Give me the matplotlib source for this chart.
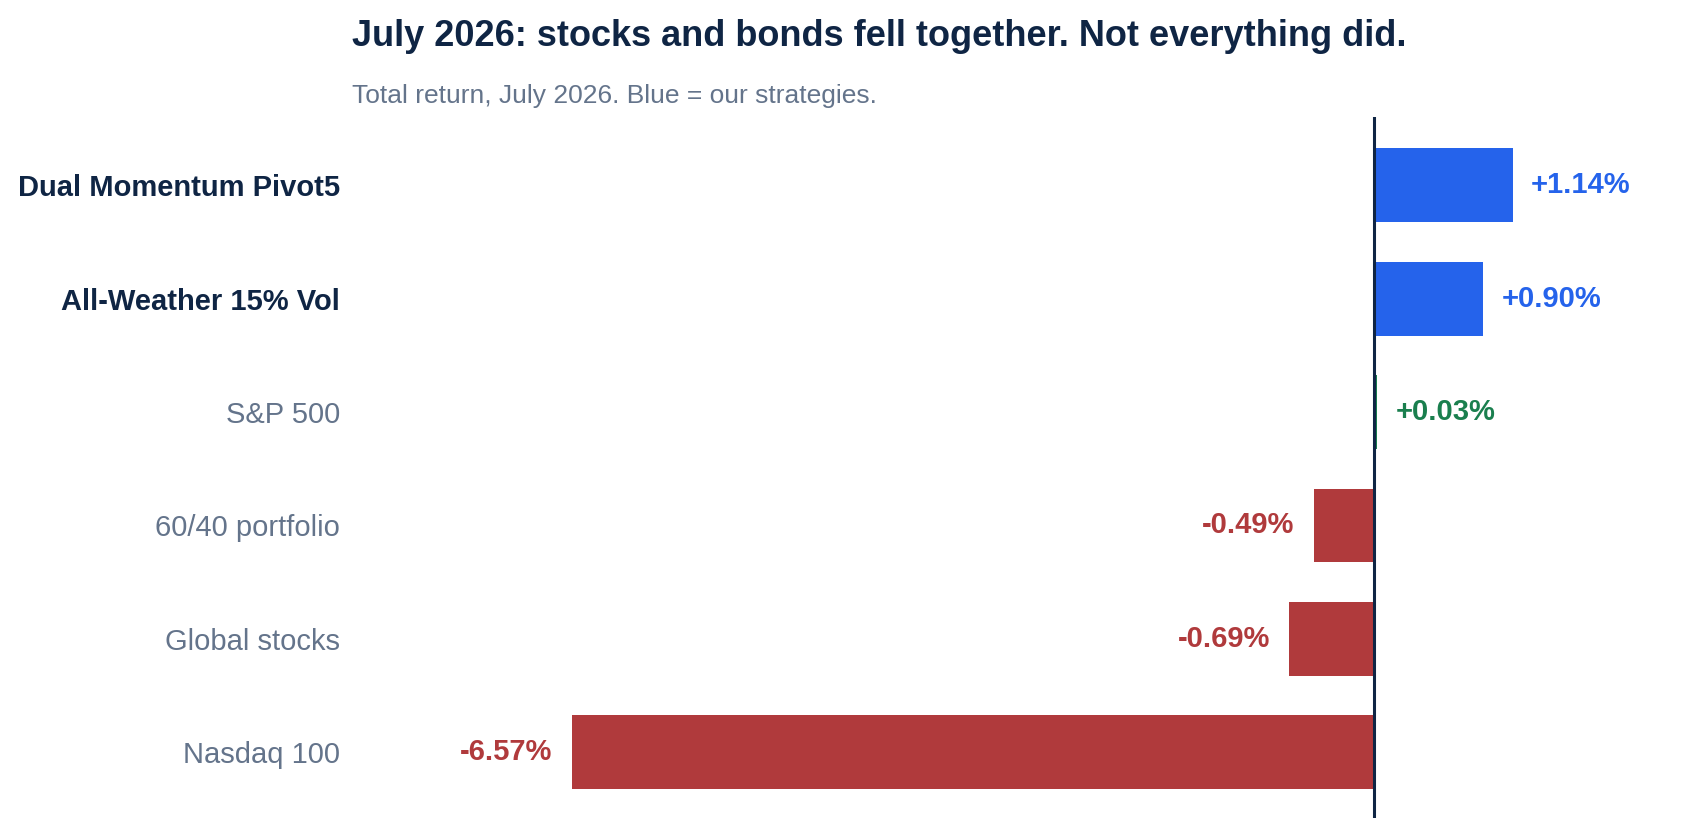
import matplotlib
matplotlib.use("Agg")
import matplotlib.pyplot as plt

plt.rcParams['font.family'] = ['Liberation Sans', 'DejaVu Sans']

# July 2026 total returns, top to bottom
names = ['Dual Momentum Pivot5', 'All-Weather 15% Vol', 'S&P 500',
         '60/40 portfolio', 'Global stocks', 'Nasdaq 100']
returns = [1.14, 0.90, 0.03, -0.49, -0.69, -6.57]
ours = [True, True, False, False, False, False]

NAVY = '#0f2544'
GRAY = '#64748b'
BLUE = '#2563eb'
RED = '#b03a3c'
GREEN = '#1a7f4e'


def bar_color(v, mine):
    if mine:
        return BLUE
    return GREEN if v >= 0 else RED


colors = [bar_color(v, m) for v, m in zip(returns, ours)]

fig = plt.figure(figsize=(16.97, 8.38), dpi=100)
ax = fig.add_axes([0.2076, 0.024, 0.7578, 0.836])

ypos = list(range(len(names)))
ax.barh(ypos, returns, height=0.65, color=colors)
ax.axvline(0, color=NAVY, linewidth=2.2)

ax.set_xlim(-8.37, 2.17)
ax.set_ylim(len(names) - 0.42, -0.6)

for y, v, c in zip(ypos, returns, colors):
    label = f'{v:+.2f}%'
    if v >= 0:
        ax.text(v + 0.15, y, label, ha='left', va='center', color=c,
                fontsize=21, fontweight='bold')
    else:
        ax.text(v - 0.16, y, label, ha='right', va='center', color=c,
                fontsize=21, fontweight='bold')

ax.set_yticks(ypos)
ax.set_yticklabels(names)
for lbl, mine in zip(ax.get_yticklabels(), ours):
    lbl.set_fontsize(21)
    if mine:
        lbl.set_color(NAVY)
        lbl.set_fontweight('bold')
    else:
        lbl.set_color(GRAY)
ax.tick_params(axis='y', length=0, pad=9)
ax.set_xticks([])
for s in ax.spines.values():
    s.set_visible(False)

fig.text(0.2076, 0.956, 'July 2026: stocks and bonds fell together. Not everything did.',
         ha='left', va='center', fontsize=26, fontweight='bold', color=NAVY)
fig.text(0.2076, 0.886, 'Total return, July 2026. Blue = our strategies.',
         ha='left', va='center', fontsize=19, color=GRAY)

fig.savefig('out.png', dpi=100)
